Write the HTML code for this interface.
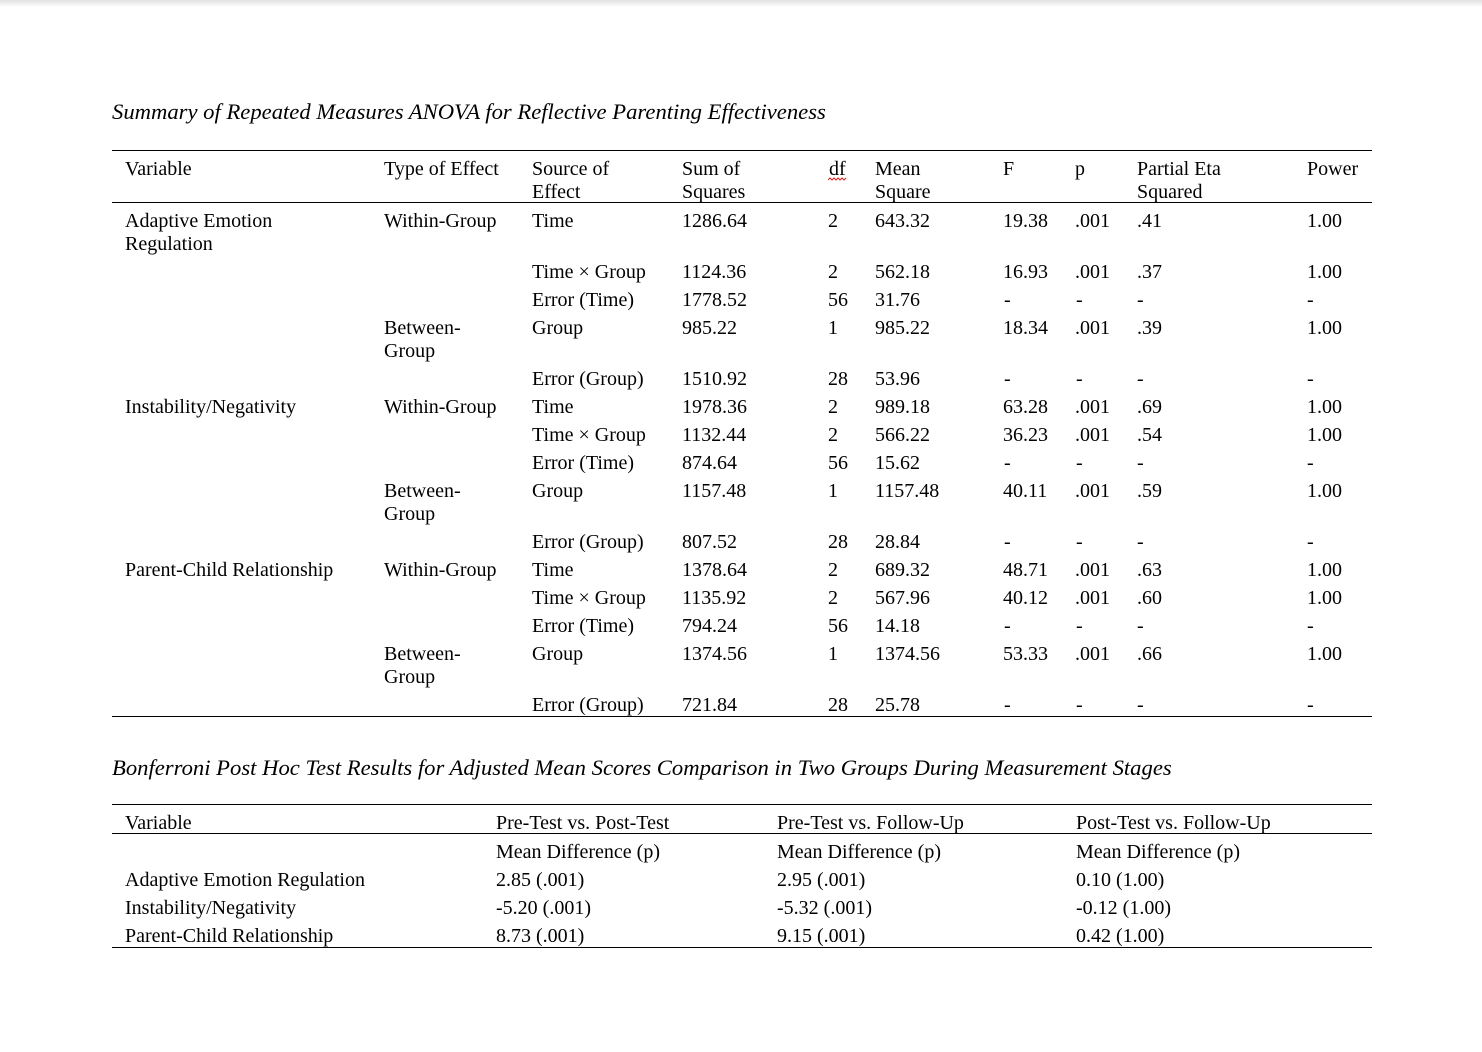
<!DOCTYPE html>
<html>
<head>
<meta charset="utf-8">
<style>
  html, body { margin:0; padding:0; }
  body { width:1482px; height:1051px; background:#fff; position:relative; overflow:hidden;
         font-family:"Liberation Serif","Times New Roman",serif; color:#000; }
  .shadow { position:absolute; left:0; top:0; width:1482px; height:7px;
            background:linear-gradient(#e2e2e2, #ffffff); }
  .t { position:absolute; font-size:20px; line-height:23px; white-space:nowrap; }
  .title { position:absolute; font-size:22.65px; line-height:26px; font-style:italic; white-space:nowrap; }
  .ln { position:absolute; left:112px; width:1260px; height:1px; background:#000; }
  .a { position:absolute; left:0; top:1px; width:1482px; height:1051px; }
</style>
</head>
<body>
<div class="shadow"></div>

<div class="title" style="left:112px; top:99px;">Summary of Repeated Measures ANOVA for Reflective Parenting Effectiveness</div>

<div class="ln" style="top:150px;"></div>
<div class="ln" style="top:202px;"></div>
<div class="ln" style="top:716px;"></div>

<div class="a">
<!-- header -->
<div class="t" style="left:125px; top:157px;">Variable</div>
<div class="t" style="left:384px; top:157px;">Type of Effect</div>
<div class="t" style="left:532px; top:157px;">Source of<br>Effect</div>
<div class="t" style="left:682px; top:157px;">Sum of<br>Squares</div>
<div class="t" style="left:829px; top:157px;">df</div>
<svg style="position:absolute; left:828px; top:176px;" width="20" height="5"><path d="M0,3 L2,1 L4,3 L6,1 L8,3 L10,1 L12,3 L14,1 L16,3 L18,1" stroke="#d22" stroke-width="1" fill="none"/></svg>
<div class="t" style="left:875px; top:157px;">Mean<br>Square</div>
<div class="t" style="left:1003px; top:157px;">F</div>
<div class="t" style="left:1075px; top:157px;">p</div>
<div class="t" style="left:1137px; top:157px;">Partial Eta<br>Squared</div>
<div class="t" style="left:1307px; top:157px;">Power</div>

<!-- Adaptive Emotion Regulation -->
<div class="t" style="left:125px; top:209px;">Adaptive Emotion<br>Regulation</div>
<div class="t" style="left:384px; top:209px;">Within-Group</div>
<div class="t" style="left:532px; top:209px;">Time</div>
<div class="t" style="left:682px; top:209px;">1286.64</div>
<div class="t" style="left:828px; top:209px;">2</div>
<div class="t" style="left:875px; top:209px;">643.32</div>
<div class="t" style="left:1003px; top:209px;">19.38</div>
<div class="t" style="left:1075px; top:209px;">.001</div>
<div class="t" style="left:1137px; top:209px;">.41</div>
<div class="t" style="left:1307px; top:209px;">1.00</div>

<div class="t" style="left:532px; top:260px;">Time × Group</div>
<div class="t" style="left:682px; top:260px;">1124.36</div>
<div class="t" style="left:828px; top:260px;">2</div>
<div class="t" style="left:875px; top:260px;">562.18</div>
<div class="t" style="left:1003px; top:260px;">16.93</div>
<div class="t" style="left:1075px; top:260px;">.001</div>
<div class="t" style="left:1137px; top:260px;">.37</div>
<div class="t" style="left:1307px; top:260px;">1.00</div>

<div class="t" style="left:532px; top:288px;">Error (Time)</div>
<div class="t" style="left:682px; top:288px;">1778.52</div>
<div class="t" style="left:828px; top:288px;">56</div>
<div class="t" style="left:875px; top:288px;">31.76</div>
<div class="t" style="left:1004px; top:288px;">-</div>
<div class="t" style="left:1076px; top:288px;">-</div>
<div class="t" style="left:1137px; top:288px;">-</div>
<div class="t" style="left:1307px; top:288px;">-</div>

<div class="t" style="left:384px; top:316px;">Between-<br>Group</div>
<div class="t" style="left:532px; top:316px;">Group</div>
<div class="t" style="left:682px; top:316px;">985.22</div>
<div class="t" style="left:828px; top:316px;">1</div>
<div class="t" style="left:875px; top:316px;">985.22</div>
<div class="t" style="left:1003px; top:316px;">18.34</div>
<div class="t" style="left:1075px; top:316px;">.001</div>
<div class="t" style="left:1137px; top:316px;">.39</div>
<div class="t" style="left:1307px; top:316px;">1.00</div>

<div class="t" style="left:532px; top:367px;">Error (Group)</div>
<div class="t" style="left:682px; top:367px;">1510.92</div>
<div class="t" style="left:828px; top:367px;">28</div>
<div class="t" style="left:875px; top:367px;">53.96</div>
<div class="t" style="left:1004px; top:367px;">-</div>
<div class="t" style="left:1076px; top:367px;">-</div>
<div class="t" style="left:1137px; top:367px;">-</div>
<div class="t" style="left:1307px; top:367px;">-</div>

<!-- Instability/Negativity -->
<div class="t" style="left:125px; top:395px;">Instability/Negativity</div>
<div class="t" style="left:384px; top:395px;">Within-Group</div>
<div class="t" style="left:532px; top:395px;">Time</div>
<div class="t" style="left:682px; top:395px;">1978.36</div>
<div class="t" style="left:828px; top:395px;">2</div>
<div class="t" style="left:875px; top:395px;">989.18</div>
<div class="t" style="left:1003px; top:395px;">63.28</div>
<div class="t" style="left:1075px; top:395px;">.001</div>
<div class="t" style="left:1137px; top:395px;">.69</div>
<div class="t" style="left:1307px; top:395px;">1.00</div>

<div class="t" style="left:532px; top:423px;">Time × Group</div>
<div class="t" style="left:682px; top:423px;">1132.44</div>
<div class="t" style="left:828px; top:423px;">2</div>
<div class="t" style="left:875px; top:423px;">566.22</div>
<div class="t" style="left:1003px; top:423px;">36.23</div>
<div class="t" style="left:1075px; top:423px;">.001</div>
<div class="t" style="left:1137px; top:423px;">.54</div>
<div class="t" style="left:1307px; top:423px;">1.00</div>

<div class="t" style="left:532px; top:451px;">Error (Time)</div>
<div class="t" style="left:682px; top:451px;">874.64</div>
<div class="t" style="left:828px; top:451px;">56</div>
<div class="t" style="left:875px; top:451px;">15.62</div>
<div class="t" style="left:1004px; top:451px;">-</div>
<div class="t" style="left:1076px; top:451px;">-</div>
<div class="t" style="left:1137px; top:451px;">-</div>
<div class="t" style="left:1307px; top:451px;">-</div>

<div class="t" style="left:384px; top:479px;">Between-<br>Group</div>
<div class="t" style="left:532px; top:479px;">Group</div>
<div class="t" style="left:682px; top:479px;">1157.48</div>
<div class="t" style="left:828px; top:479px;">1</div>
<div class="t" style="left:875px; top:479px;">1157.48</div>
<div class="t" style="left:1003px; top:479px;">40.11</div>
<div class="t" style="left:1075px; top:479px;">.001</div>
<div class="t" style="left:1137px; top:479px;">.59</div>
<div class="t" style="left:1307px; top:479px;">1.00</div>

<div class="t" style="left:532px; top:530px;">Error (Group)</div>
<div class="t" style="left:682px; top:530px;">807.52</div>
<div class="t" style="left:828px; top:530px;">28</div>
<div class="t" style="left:875px; top:530px;">28.84</div>
<div class="t" style="left:1004px; top:530px;">-</div>
<div class="t" style="left:1076px; top:530px;">-</div>
<div class="t" style="left:1137px; top:530px;">-</div>
<div class="t" style="left:1307px; top:530px;">-</div>

<!-- Parent-Child Relationship -->
<div class="t" style="left:125px; top:558px;">Parent-Child Relationship</div>
<div class="t" style="left:384px; top:558px;">Within-Group</div>
<div class="t" style="left:532px; top:558px;">Time</div>
<div class="t" style="left:682px; top:558px;">1378.64</div>
<div class="t" style="left:828px; top:558px;">2</div>
<div class="t" style="left:875px; top:558px;">689.32</div>
<div class="t" style="left:1003px; top:558px;">48.71</div>
<div class="t" style="left:1075px; top:558px;">.001</div>
<div class="t" style="left:1137px; top:558px;">.63</div>
<div class="t" style="left:1307px; top:558px;">1.00</div>

<div class="t" style="left:532px; top:586px;">Time × Group</div>
<div class="t" style="left:682px; top:586px;">1135.92</div>
<div class="t" style="left:828px; top:586px;">2</div>
<div class="t" style="left:875px; top:586px;">567.96</div>
<div class="t" style="left:1003px; top:586px;">40.12</div>
<div class="t" style="left:1075px; top:586px;">.001</div>
<div class="t" style="left:1137px; top:586px;">.60</div>
<div class="t" style="left:1307px; top:586px;">1.00</div>

<div class="t" style="left:532px; top:614px;">Error (Time)</div>
<div class="t" style="left:682px; top:614px;">794.24</div>
<div class="t" style="left:828px; top:614px;">56</div>
<div class="t" style="left:875px; top:614px;">14.18</div>
<div class="t" style="left:1004px; top:614px;">-</div>
<div class="t" style="left:1076px; top:614px;">-</div>
<div class="t" style="left:1137px; top:614px;">-</div>
<div class="t" style="left:1307px; top:614px;">-</div>

<div class="t" style="left:384px; top:642px;">Between-<br>Group</div>
<div class="t" style="left:532px; top:642px;">Group</div>
<div class="t" style="left:682px; top:642px;">1374.56</div>
<div class="t" style="left:828px; top:642px;">1</div>
<div class="t" style="left:875px; top:642px;">1374.56</div>
<div class="t" style="left:1003px; top:642px;">53.33</div>
<div class="t" style="left:1075px; top:642px;">.001</div>
<div class="t" style="left:1137px; top:642px;">.66</div>
<div class="t" style="left:1307px; top:642px;">1.00</div>

<div class="t" style="left:532px; top:693px;">Error (Group)</div>
<div class="t" style="left:682px; top:693px;">721.84</div>
<div class="t" style="left:828px; top:693px;">28</div>
<div class="t" style="left:875px; top:693px;">25.78</div>
<div class="t" style="left:1004px; top:693px;">-</div>
<div class="t" style="left:1076px; top:693px;">-</div>
<div class="t" style="left:1137px; top:693px;">-</div>
<div class="t" style="left:1307px; top:693px;">-</div>
</div>

<!-- Table 2 -->
<div class="title" style="left:112px; top:755px;">Bonferroni Post Hoc Test Results for Adjusted Mean Scores Comparison in Two Groups During Measurement Stages</div>

<div class="ln" style="top:804px;"></div>
<div class="ln" style="top:833px;"></div>
<div class="ln" style="top:947px;"></div>

<div class="t" style="left:125px; top:812px;">Variable</div>
<div class="t" style="left:496px; top:812px;">Pre-Test vs. Post-Test</div>
<div class="t" style="left:777px; top:812px;">Pre-Test vs. Follow-Up</div>
<div class="t" style="left:1076px; top:812px;">Post-Test vs. Follow-Up</div>

<div class="t" style="left:496px; top:841px;">Mean Difference (p)</div>
<div class="t" style="left:777px; top:841px;">Mean Difference (p)</div>
<div class="t" style="left:1076px; top:841px;">Mean Difference (p)</div>

<div class="t" style="left:125px; top:869px;">Adaptive Emotion Regulation</div>
<div class="t" style="left:496px; top:869px;">2.85 (.001)</div>
<div class="t" style="left:777px; top:869px;">2.95 (.001)</div>
<div class="t" style="left:1076px; top:869px;">0.10 (1.00)</div>

<div class="t" style="left:125px; top:897px;">Instability/Negativity</div>
<div class="t" style="left:496px; top:897px;">-5.20 (.001)</div>
<div class="t" style="left:777px; top:897px;">-5.32 (.001)</div>
<div class="t" style="left:1076px; top:897px;">-0.12 (1.00)</div>

<div class="t" style="left:125px; top:925px;">Parent-Child Relationship</div>
<div class="t" style="left:496px; top:925px;">8.73 (.001)</div>
<div class="t" style="left:777px; top:925px;">9.15 (.001)</div>
<div class="t" style="left:1076px; top:925px;">0.42 (1.00)</div>

</body>
</html>
